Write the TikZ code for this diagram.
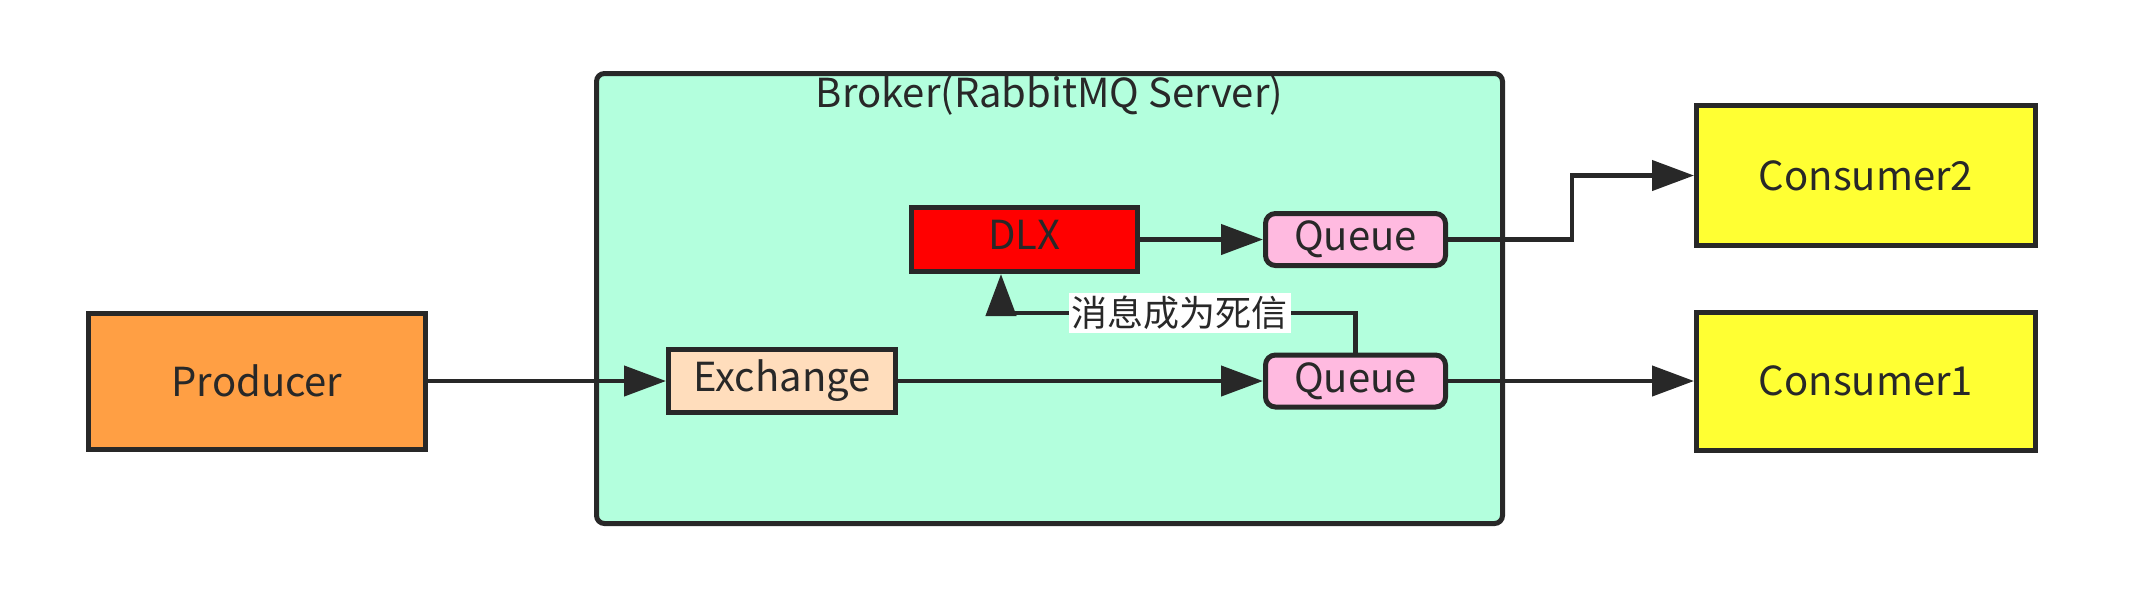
\documentclass[tikz,border=0pt]{standalone}
\usepackage{fontspec}
\setmainfont{Noto Sans CJK SC}
\usetikzlibrary{arrows.meta}
\definecolor{ink}{HTML}{282828}
\definecolor{brokerc}{HTML}{B3FFDD}
\definecolor{prodc}{HTML}{FF9F44}
\definecolor{exchc}{HTML}{FFDDBC}
\definecolor{dlxc}{HTML}{FF0000}
\definecolor{queuec}{HTML}{FFBAE0}
\definecolor{consc}{HTML}{FFFF33}
\begin{document}
\begin{tikzpicture}[x=0.5pt,y=-0.5pt,
  every node/.style={text=ink, font=\fontsize{20}{24}\selectfont},
  box/.style={draw=ink, line width=2.5pt, inner sep=0pt},
  conn/.style={draw=ink, line width=2.2pt, -{Triangle[length=21pt,width=15pt]}}]
\useasboundingbox (0,0) rectangle (2142,602);
\node[box, fill=brokerc, rounded corners=4pt, minimum width=453pt, minimum height=225pt] (broker) at (1049.5,298.5) {};
\node (title) at (1049.5,95) {Broker(RabbitMQ Server)};
\node[box, fill=prodc, minimum width=168.5pt, minimum height=68pt] (prod) at (257,381) {Producer};
\node[box, fill=exchc, minimum width=113.5pt, minimum height=31.5pt] (exch) at (782,381) {\raisebox{4.5pt}{Exchange}};
\node[box, fill=dlxc, minimum width=113pt, minimum height=32pt] (dlx) at (1024.5,239.5) {\raisebox{5pt}{DLX}};
\node[box, fill=queuec, rounded corners=5pt, minimum width=90pt, minimum height=26pt] (q2) at (1355.5,239.5) {Queue};
\node[box, fill=queuec, rounded corners=5pt, minimum width=90pt, minimum height=26pt] (q1) at (1355.5,381) {Queue};
\node[box, fill=consc, minimum width=169.5pt, minimum height=70pt] (c2) at (1866,175.5) {Consumer2};
\node[box, fill=consc, minimum width=169.5pt, minimum height=69pt] (c1) at (1866,381) {Consumer1};
\coordinate (bend2) at (1572,177);
\coordinate (dl) at (1001,313);
\draw[conn] (prod.east) -- (exch.west);
\draw[conn] (exch.east) -- (q1.west);
\draw[conn] (dlx.east) -- (q2.west);
\draw[conn] (q1.east) -- (c1.west);
\draw[conn] (q2.east) -- (q2.east -| bend2) |- (c2.west);
\draw[conn] (q1.north) |- (dl) -- (dl |- dlx.south);
\node[fill=white, inner sep=1.5pt, font=\fontsize{18}{20}\selectfont] (lbl) at (1179.5,313) {消息成为死信};
\end{tikzpicture}
\end{document}
